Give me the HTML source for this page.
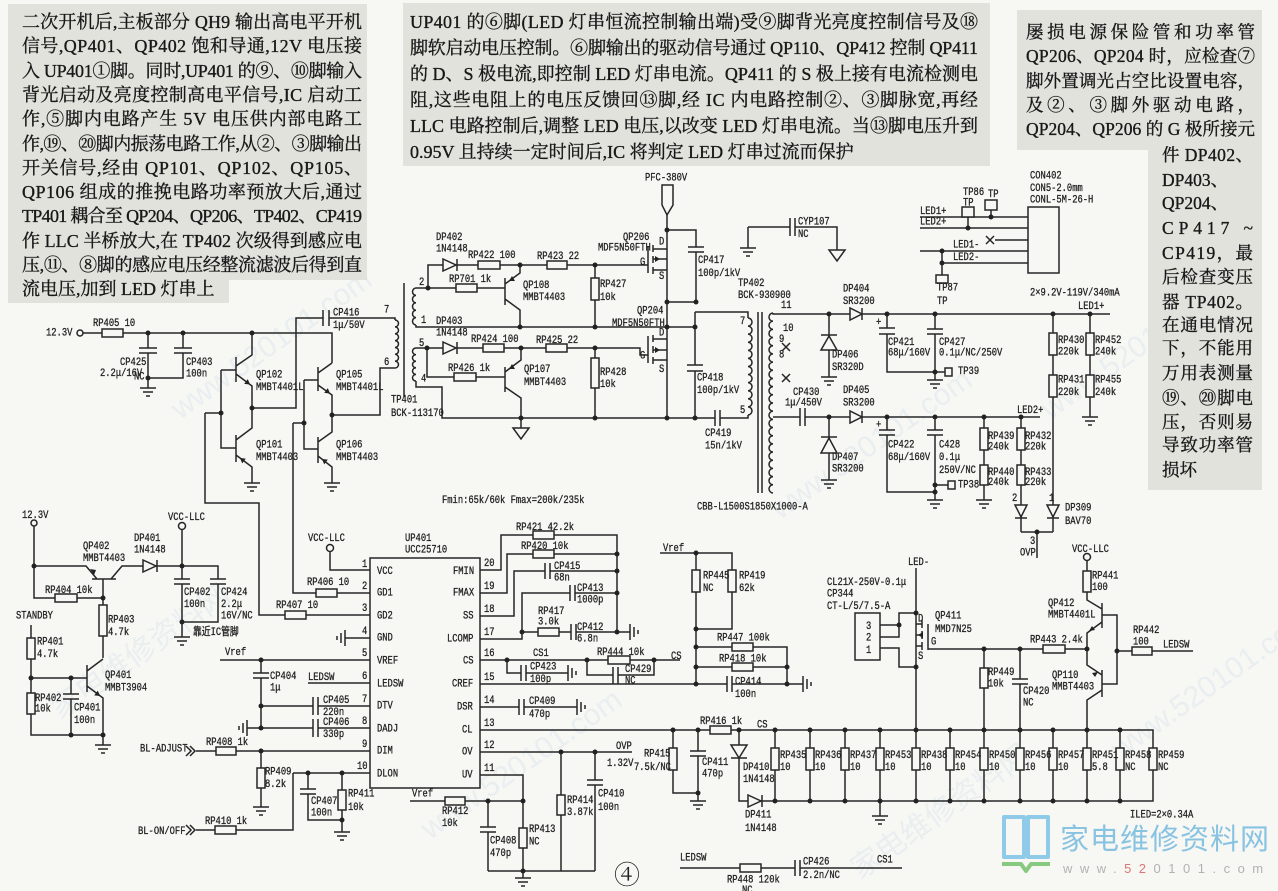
<!DOCTYPE html>
<html><head><meta charset="utf-8">
<style>
html,body{margin:0;padding:0;background:#f7f7f4;}
svg{display:block}
.w path,.w line{stroke:#262626;stroke-width:1.5;fill:none}
.w rect{stroke:#262626;stroke-width:1.5;fill:#f7f7f4}
.w polygon{stroke:#262626;stroke-width:1.5;fill:#f7f7f4}
.dots circle{fill:#222}
.c text{font-family:"Liberation Mono","Noto Sans CJK SC",monospace;font-size:11px;fill:#222;stroke:#222;stroke-width:0.3;dominant-baseline:central;transform-box:fill-box;transform-origin:0 50%;transform:scaleX(.8)}
.b text{font-family:"Liberation Serif","Noto Serif CJK SC",serif;font-size:18px;fill:#181818;stroke:#181818;stroke-width:0.35}
.wm text{font-family:"Liberation Sans","Noto Sans CJK SC",sans-serif;font-size:30px;fill:#dfe7ee;opacity:.55}
</style></head>
<body>
<svg width="1278" height="891" viewBox="0 0 1278 891" xmlns="http://www.w3.org/2000/svg">
<rect x="0" y="0" width="1278" height="891" fill="#f7f7f4"/>

<!-- watermarks -->
<g class="wm">
<text transform="translate(180,420) rotate(-35)">www.520101.com</text>
<text transform="translate(430,840) rotate(-35)">www.520101.com</text>
<text transform="translate(780,520) rotate(-35)">www.520101.com</text>
<text transform="translate(1120,760) rotate(-35)">www.520101.com</text>
<text transform="translate(1050,420) rotate(-35)">www.520101.com</text>
<text transform="translate(60,720) rotate(-35)">家电维修资料网</text>
<text transform="translate(860,880) rotate(-35)">家电维修资料网</text>
</g>

<!-- text block backgrounds -->
<rect x="8" y="4" width="359" height="276" fill="#e2e2dd"/>
<rect x="8" y="270" width="221" height="33" fill="#e2e2dd"/>
<rect x="403" y="3" width="587" height="163" fill="#e2e2dd"/>
<rect x="1017" y="10" width="245" height="140" fill="#e2e2dd"/>
<rect x="1148" y="145" width="114" height="345" fill="#e2e2dd"/>

<g class="b">
<text x="22" y="28" textLength="340" lengthAdjust="spacing">二次开机后,主板部分 QH9 输出高电平开机</text>
<text x="22" y="52" textLength="340" lengthAdjust="spacing">信号,QP401、QP402 饱和导通,12V 电压接</text>
<text x="22" y="77" textLength="340" lengthAdjust="spacing">入 UP401①脚。同时,UP401 的⑨、⑩脚输入</text>
<text x="22" y="101" textLength="340" lengthAdjust="spacing">背光启动及亮度控制高电平信号,IC 启动工</text>
<text x="22" y="125" textLength="340" lengthAdjust="spacing">作,⑤脚内电路产生 5V 电压供内部电路工</text>
<text x="22" y="150" textLength="340" lengthAdjust="spacing">作,⑲、⑳脚内振荡电路工作,从②、③脚输出</text>
<text x="22" y="174" textLength="340" lengthAdjust="spacing">开关信号,经由 QP101、QP102、QP105、</text>
<text x="22" y="198" textLength="340" lengthAdjust="spacing">QP106 组成的推挽电路功率预放大后,通过</text>
<text x="22" y="222" textLength="340" lengthAdjust="spacing">TP401 耦合至 QP204、QP206、TP402、CP419</text>
<text x="22" y="247" textLength="340" lengthAdjust="spacing">作 LLC 半桥放大,在 TP402 次级得到感应电</text>
<text x="22" y="271" textLength="340" lengthAdjust="spacing">压,⑪、⑧脚的感应电压经整流滤波后得到直</text>
<text x="22" y="295">流电压,加到 LED 灯串上</text>

<text x="410" y="28" textLength="568" lengthAdjust="spacing">UP401 的⑥脚(LED 灯串恒流控制输出端)受⑨脚背光亮度控制信号及⑱</text>
<text x="410" y="54" textLength="568" lengthAdjust="spacing">脚软启动电压控制。⑥脚输出的驱动信号通过 QP110、QP412 控制 QP411</text>
<text x="410" y="80" textLength="568" lengthAdjust="spacing">的 D、S 极电流,即控制 LED 灯串电流。QP411 的 S 极上接有电流检测电</text>
<text x="410" y="106" textLength="568" lengthAdjust="spacing">阻,这些电阻上的电压反馈回⑬脚,经 IC 内电路控制②、③脚脉宽,再经</text>
<text x="410" y="132" textLength="568" lengthAdjust="spacing">LLC 电路控制后,调整 LED 电压,以改变 LED 灯串电流。当⑬脚电压升到</text>
<text x="410" y="158">0.95V 且持续一定时间后,IC 将判定 LED 灯串过流而保护</text>
</g>
<g class="b">
<text x="1026" y="38" textLength="229" lengthAdjust="spacing" style="font-size:17.5px">屡损电源保险管和功率管</text>
<text x="1026" y="62" textLength="229" lengthAdjust="spacing" style="font-size:17.5px">QP206、QP204 时，应检查⑦</text>
<text x="1026" y="87" textLength="229" lengthAdjust="spacing" style="font-size:17.5px">脚外置调光占空比设置电容，</text>
<text x="1026" y="111" textLength="229" lengthAdjust="spacing" style="font-size:17.5px">及②、③脚外驱动电路，</text>
<text x="1026" y="135" textLength="229" lengthAdjust="spacing" style="font-size:17.5px">QP204、QP206 的 G 极所接元</text>
<text x="1162" y="161" textLength="91" lengthAdjust="spacing" style="font-size:17.5px">件 DP402、</text>
<text x="1162" y="186" style="font-size:17.5px">DP403、</text>
<text x="1162" y="209" style="font-size:17.5px">QP204、</text>
<text x="1162" y="234" textLength="91" lengthAdjust="spacing" style="font-size:17.5px">CP417 ~</text>
<text x="1162" y="259" textLength="91" lengthAdjust="spacing" style="font-size:17.5px">CP419，最</text>
<text x="1162" y="283" textLength="91" lengthAdjust="spacing" style="font-size:17.5px">后检查变压</text>
<text x="1162" y="308" textLength="91" lengthAdjust="spacing" style="font-size:17.5px">器 TP402。</text>
<text x="1162" y="331" textLength="91" lengthAdjust="spacing" style="font-size:17.5px">在通电情况</text>
<text x="1162" y="354" textLength="91" lengthAdjust="spacing" style="font-size:17.5px">下，不能用</text>
<text x="1162" y="379" textLength="91" lengthAdjust="spacing" style="font-size:17.5px">万用表测量</text>
<text x="1162" y="404" textLength="91" lengthAdjust="spacing" style="font-size:17.5px">⑲、⑳脚电</text>
<text x="1162" y="428" textLength="91" lengthAdjust="spacing" style="font-size:17.5px">压，否则易</text>
<text x="1162" y="451" textLength="91" lengthAdjust="spacing" style="font-size:17.5px">导致功率管</text>
<text x="1162" y="476" style="font-size:17.5px">损坏</text>
</g>

<!-- ===== WIRES ===== -->
<g class="w">
<path d="M83,333H332V363"/>
<path d="M148,333V348M139,348H157M139,353H157M148,353V388"/>
<path d="M183,333V348M174,348H192M174,353H192M183,353V378H148"/>
<path d="M236,357V382M252,333V355L236,366M236,374L252,386V408"/>
<path d="M236,435V462M252,408V428L236,440M236,455L252,467V483"/>
<path d="M221,370H236M221,370V448H236M205,413H221M205,413V503H259V615H370"/>
<path d="M318,367V391M332,363L318,373M318,385L332,395V415"/>
<path d="M318,437V463M332,415V432L318,442M318,456L332,467V483"/>
<path d="M304,380H318M304,380V449H318M293,423H304M293,423V593H370"/>
<path d="M332,415H380V368H395"/>
<path d="M252,408H296V318H323M329,318H395V320M323,310V326M329,310V326"/>
<path d="M395,320a3.5,3.43 0 0 1 0,6.86a3.5,3.43 0 0 1 0,6.86a3.5,3.43 0 0 1 0,6.86a3.5,3.43 0 0 1 0,6.86a3.5,3.43 0 0 1 0,6.86a3.5,3.43 0 0 1 0,6.86a3.5,3.43 0 0 1 0,6.86"/>
<path d="M404,283V397"/>
<path d="M416,288a3.5,3.7 0 0 0 0,7.4a3.5,3.7 0 0 0 0,7.4a3.5,3.7 0 0 0 0,7.4a3.5,3.7 0 0 0 0,7.4a3.5,3.7 0 0 0 0,7.4"/>
<path d="M416,348a3.5,3.3 0 0 0 0,6.6a3.5,3.3 0 0 0 0,6.6a3.5,3.3 0 0 0 0,6.6a3.5,3.3 0 0 0 0,6.6a3.5,3.3 0 0 0 0,6.6"/>
<path d="M416,288H428V265H648M428,288H505M416,325V327H695"/>
<path d="M505,278V305M505,284L520,273V265M505,299L520,310V327"/>
<path d="M595,265V327"/>
<path d="M667,215V418M667,230H696V247M696,252V302H667M688,247H704M688,252H704"/>
<polygon points="662,185 673,185 673,205 667,215 662,205"/>
<path d="M648,246V273M653,245V252M653,256V263M653,267V274M653,249H667M653,270H667M653,259H667"/>
<path d="M648,336V363M653,335V342M653,346V353M653,357V364M653,339H667M653,360H667M653,350H667"/>
<path d="M416,348H640V355H648M427,348V377H505"/>
<path d="M505,367V392M505,372L521,360V348M505,387L521,398V428"/>
<polygon points="513,428 529,428 521,439"/>
<path d="M595,348V418"/>
<path d="M416,381V387H442V418H715M720,418H748V415M715,410V426M720,410V426"/>
<path d="M695,312V365M695,371V418M687,365H703M687,371H703M695,312H748V318"/>
<path d="M748,318a4,4.04 0 0 1 0,8.08a4,4.04 0 0 1 0,8.08a4,4.04 0 0 1 0,8.08a4,4.04 0 0 1 0,8.08a4,4.04 0 0 1 0,8.08a4,4.04 0 0 1 0,8.08a4,4.04 0 0 1 0,8.08a4,4.04 0 0 1 0,8.08a4,4.04 0 0 1 0,8.08a4,4.04 0 0 1 0,8.08a4,4.04 0 0 1 0,8.08a4,4.04 0 0 1 0,8.08"/>
<path d="M758,312V493M762,312V493"/>
<path d="M773,313a4,4.09 0 0 0 0,8.18a4,4.09 0 0 0 0,8.18a4,4.09 0 0 0 0,8.18a4,4.09 0 0 0 0,8.18a4,4.09 0 0 0 0,8.18a4,4.09 0 0 0 0,8.18a4,4.09 0 0 0 0,8.18a4,4.09 0 0 0 0,8.18a4,4.09 0 0 0 0,8.18a4,4.09 0 0 0 0,8.18a4,4.09 0 0 0 0,8.18a4,4.09 0 0 0 0,8.18a4,4.09 0 0 0 0,8.18a4,4.09 0 0 0 0,8.18a4,4.09 0 0 0 0,8.18a4,4.09 0 0 0 0,8.18a4,4.09 0 0 0 0,8.18a4,4.09 0 0 0 0,8.18a4,4.09 0 0 0 0,8.18a4,4.09 0 0 0 0,8.18a4,4.09 0 0 0 0,8.18a4,4.09 0 0 0 0,8.18"/>
<path d="M782,343l8,8M782,351l8,-8M782,374l8,8M782,382l8,-8"/>
<path d="M748,227V248M748,227H790M795,227H837V250M790,218V236M795,218V236"/>
<polygon points="829,250 845,250 837,261"/>
<path d="M773,313V314H1110"/>
<path d="M829,314V377"/>
<path d="M887,314V328M887,334V372H935M879,328H895M879,334H895"/>
<path d="M935,314V329M935,334V380M927,329H943M927,334H943M935,372H945"/>
<path d="M773,417H800M805,417H1040M800,408V426M805,408V426"/>
<path d="M829,417V480"/>
<path d="M887,417V430M887,435V492H935M879,430H895M879,435H895"/>
<path d="M935,417V430M935,435V500M927,430H943M927,435H943M935,485H948"/>
<path d="M984,417V500M1021,417V532M1053,314V532M1021,532H1053M1037,532V558M1090,314V417"/>
<path d="M920,217H1028M920,228H1028M995,240H1028M920,251H1028M942,263H1028M991,210V217M968,217V228M942,251V275M986,236L994,244M986,244L994,236"/>
<path d="M140,388h16M143,392h10M146,396h4M244,483h16M247,487h10M250,491h4M324,483h16M327,487h10M330,491h4M174,637h16M177,641h10M180,645h4M95,745h16M98,749h10M101,753h4M253,807h16M256,811h10M259,815h4M334,832h16M337,836h10M340,840h4M515,878h16M518,882h10M521,886h4M690,801h16M693,805h10M696,809h4M821,377h16M824,381h10M827,385h4M927,380h16M930,384h10M933,388h4M821,480h16M824,484h10M827,488h4M927,500h16M930,504h10M933,508h4M976,500h16M979,504h10M982,508h4M1082,417h16M1085,421h10M1088,425h4M740,248h16M743,252h10M746,256h4M872,816h16M875,820h10M878,824h4"/>
<path d="M345,630v16M341,633v10M337,636v4M247,720v16M243,723v10M239,726v4M630,624v16M634,627v10M638,630v4M568,665v16M572,668v10M576,671v4M803,676v16M807,679v10M811,682v4M577,699v16M581,702v10M585,705v4"/>
<path d="M34,526V598H103"/>
<path d="M34,566H86L97,579M111,579L122,566H218V579M92,579H116M103,579V658"/>
<path d="M182,530V579M182,584V637M174,579H190M174,584H190M218,584V622H182M210,579H226M210,584H226"/>
<path d="M87,665V692M87,671L103,659M87,686L103,698V745"/>
<path d="M31,625V735H103M31,678H87M71,678V694M71,699V735M63,694H79M63,699H79"/>
<path d="M330,552V570H370M345,638H370"/>
<path d="M220,660H370M261,660V673M261,678V728M253,673H269M253,678H269"/>
<path d="M308,683H370"/>
<path d="M261,706H313M318,706H370M313,697V715M318,697V715"/>
<path d="M247,728H313M318,728H370M313,719V737M318,719V737"/>
<path d="M196,751H370M261,751V807M186,746l5,5l-5,5M190,746l5,5l-5,5"/>
<path d="M293,773H370M293,773V830H196M186,825l5,5l-5,5M190,825l5,5l-5,5"/>
<path d="M308,773V789M308,794V820H342M300,789H316M300,794H316M342,773V832"/>
<path d="M480,570H501V535H617V632"/>
<path d="M480,593H507V554H617"/>
<path d="M480,616H514V571H545M550,571H617M545,563V579M550,563V579"/>
<path d="M480,639H522V593H570M575,593H617M570,585V601M575,585V601"/>
<path d="M522,632H571M576,632H630M571,624V640M576,624V640"/>
<path d="M480,660H680"/>
<path d="M507,660V673H521M526,673H568M521,665V681M526,665V681"/>
<path d="M587,660V675H613M618,675H654V660M613,667V684M618,667V684"/>
<path d="M480,684H727M732,684H803M727,676V692M732,676V692"/>
<path d="M660,553H732V629H696M696,553V684M696,647H787V684M696,667H787"/>
<path d="M480,707H519M524,707H577M519,699V715M524,699V715"/>
<path d="M480,730H1153V801H739V730"/>
<path d="M673,730V793H698M698,730V751M698,756V801M690,751H706M690,756H706"/>
<path d="M775,730V801M810,730V801M845,730V801M880,730V816M916,730V801M950,730V801M984,730V801M1020,730V801M1053,730V801M1087,730V801M1120,730V801"/>
<path d="M480,752H632M561,752V871M595,752V780M595,785V871M587,780H603M587,785H603"/>
<path d="M480,775H523V878M488,871H595M410,801H523M488,801V827M488,832V871M480,827H496M480,832H496"/>
<path d="M680,868H795M800,868H902M795,860V876M800,860V876"/>
<path d="M916,568V730M922,620V628M922,631V639M922,642V650M916,624H922M916,646H922M916,635H922M928,624V650M928,649H1087"/>
<path d="M880,625H899M880,637H899V613H916M880,648H899V667H916"/>
<path d="M984,649V730M1020,649V679M1020,684V730M1012,679H1028M1012,684H1028"/>
<path d="M1087,561V600L1102,609M1102,603V628M1102,622L1087,633V665L1102,675M1102,670V697M1102,690L1087,700V730"/>
<path d="M1102,615H1117V684H1102M1117,651H1193"/>

<rect x="102" y="329" width="21" height="8"/>
<rect x="456" y="284" width="21" height="8"/>
<rect x="478" y="261" width="22" height="8"/>
<rect x="547" y="261" width="20" height="8"/>
<rect x="591" y="278" width="8" height="22"/>
<rect x="483" y="344" width="21" height="8"/>
<rect x="546" y="344" width="21" height="8"/>
<rect x="454" y="373" width="22" height="8"/>
<rect x="591" y="358" width="8" height="30"/>
<rect x="980" y="428" width="8" height="22"/>
<rect x="980" y="465" width="8" height="20"/>
<rect x="1017" y="428" width="8" height="22"/>
<rect x="1017" y="465" width="8" height="20"/>
<rect x="1049" y="333" width="8" height="22"/>
<rect x="1049" y="375" width="8" height="22"/>
<rect x="1086" y="333" width="8" height="22"/>
<rect x="1086" y="375" width="8" height="22"/>
<rect x="1028" y="207" width="31" height="66"/>
<rect x="985" y="200" width="12" height="10"/>
<rect x="962" y="207" width="12" height="10"/>
<rect x="936" y="275" width="12" height="8"/>
<rect x="945" y="368" width="7" height="8"/>
<rect x="948" y="481" width="7" height="8"/>
<rect x="55" y="594" width="22" height="8"/>
<rect x="99" y="605" width="8" height="31"/>
<rect x="27" y="638" width="8" height="21"/>
<rect x="27" y="693" width="8" height="21"/>
<rect x="370" y="558" width="110" height="230"/>
<rect x="316" y="589" width="21" height="8"/>
<rect x="285" y="611" width="21" height="8"/>
<rect x="216" y="747" width="20" height="8"/>
<rect x="257" y="768" width="8" height="20"/>
<rect x="215" y="826" width="21" height="8"/>
<rect x="338" y="790" width="8" height="20"/>
<rect x="533" y="531" width="21" height="8"/>
<rect x="533" y="550" width="21" height="8"/>
<rect x="538" y="628" width="21" height="8"/>
<rect x="608" y="656" width="22" height="8"/>
<rect x="692" y="570" width="8" height="22"/>
<rect x="728" y="570" width="8" height="22"/>
<rect x="732" y="643" width="21" height="8"/>
<rect x="732" y="663" width="21" height="8"/>
<rect x="710" y="726" width="21" height="8"/>
<rect x="669" y="748" width="8" height="22"/>
<rect x="557" y="795" width="8" height="20"/>
<rect x="519" y="828" width="8" height="20"/>
<rect x="445" y="797" width="20" height="8"/>
<rect x="740" y="864" width="21" height="8"/>
<rect x="771" y="748" width="8" height="22"/>
<rect x="806" y="748" width="8" height="22"/>
<rect x="841" y="748" width="8" height="22"/>
<rect x="876" y="748" width="8" height="22"/>
<rect x="912" y="748" width="8" height="22"/>
<rect x="946" y="748" width="8" height="22"/>
<rect x="980" y="748" width="8" height="22"/>
<rect x="1016" y="748" width="8" height="22"/>
<rect x="1049" y="748" width="8" height="22"/>
<rect x="1083" y="748" width="8" height="22"/>
<rect x="1116" y="748" width="8" height="22"/>
<rect x="1149" y="748" width="8" height="22"/>
<rect x="855" y="613" width="25" height="47"/>
<rect x="980" y="668" width="8" height="20"/>
<rect x="1043" y="645" width="22" height="8"/>
<rect x="1083" y="571" width="8" height="21"/>
<rect x="1132" y="647" width="20" height="8"/>

<polygon points="443,259 443,271 456,265"/><path d="M457,259V271"/>
<polygon points="443,342 443,354 456,348"/><path d="M457,342V354"/>
<polygon points="850,308 850,320 862,314"/><path d="M862,308V320"/>
<polygon points="850,411 850,423 862,417"/><path d="M862,411V423"/>
<polygon points="821,350 837,350 829,336"/><path d="M821,335H837"/>
<polygon points="821,453 837,453 829,438"/><path d="M821,437H837"/>
<polygon points="1015,505 1027,505 1021,517"/><path d="M1015,518H1027"/>
<polygon points="1047,505 1059,505 1053,517"/><path d="M1047,518H1059"/>
<polygon points="143,560 143,572 156,566"/><path d="M157,560V572"/>
<polygon points="731,745 747,745 739,758"/><path d="M731,758H747"/>
<polygon points="748,795 748,807 761,801"/><path d="M762,795V807"/>
</g>

<g fill="#f7f7f4" stroke="#262626" stroke-width="1.5">
<circle cx="80" cy="333" r="3"/>
<circle cx="34" cy="523" r="3"/>
<circle cx="182" cy="526" r="3.5"/>
<circle cx="330" cy="548" r="3.5"/>
<circle cx="1087" cy="557" r="3.5"/>
</g>

<g fill="#222">
<polygon points="250,384.5 244.2,383.9 247.8,379.1"/>
<polygon points="240,458 245.8,458.6 242.2,463.4"/>
<polygon points="330,393.5 324.2,392.9 327.8,388.1"/>
<polygon points="322,459 327.8,459.6 324.2,464.4"/>
<polygon points="509,281 515,281 512,276"/>
<polygon points="509,369 515,369 512,364"/>
<polygon points="100,696 94.2,695.4 97.8,690.6"/>
<polygon points="90,569 94,575 96,570"/>
<polygon points="1089,631 1095,630 1092,626"/>
<polygon points="1098,672 1092,673 1095,677"/>
<polygon points="660,259 655,256 655,262"/>
<polygon points="660,350 655,347 655,353"/>
<polygon points="918,635 923,632 923,638"/>
</g>

<g class="dots">
<circle cx="148" cy="333" r="2.5"/><circle cx="183" cy="333" r="2.5"/><circle cx="252" cy="333" r="2.5"/><circle cx="148" cy="378" r="2.5"/>
<circle cx="252" cy="408" r="2.5"/><circle cx="221" cy="413" r="2.5"/><circle cx="304" cy="423" r="2.5"/><circle cx="332" cy="415" r="2.5"/>
<circle cx="428" cy="288" r="2.5"/><circle cx="520" cy="265" r="2.5"/><circle cx="595" cy="265" r="2.5"/><circle cx="520" cy="327" r="2.5"/>
<circle cx="595" cy="327" r="2.5"/><circle cx="667" cy="327" r="2.5"/><circle cx="695" cy="327" r="2.5"/><circle cx="667" cy="230" r="2.5"/>
<circle cx="696" cy="302" r="2.5"/><circle cx="667" cy="302" r="2.5"/><circle cx="427" cy="348" r="2.5"/><circle cx="521" cy="348" r="2.5"/>
<circle cx="595" cy="348" r="2.5"/><circle cx="521" cy="418" r="2.5"/><circle cx="595" cy="418" r="2.5"/><circle cx="667" cy="418" r="2.5"/><circle cx="695" cy="418" r="2.5"/>
<circle cx="829" cy="314" r="2.5"/><circle cx="887" cy="314" r="2.5"/><circle cx="935" cy="314" r="2.5"/><circle cx="1053" cy="314" r="2.5"/><circle cx="1090" cy="314" r="2.5"/>
<circle cx="935" cy="372" r="2.5"/><circle cx="829" cy="417" r="2.5"/><circle cx="887" cy="417" r="2.5"/><circle cx="935" cy="417" r="2.5"/><circle cx="984" cy="417" r="2.5"/>
<circle cx="1021" cy="417" r="2.5"/><circle cx="935" cy="485" r="2.5"/><circle cx="935" cy="492" r="2.5"/><circle cx="1037" cy="532" r="2.5"/>
<circle cx="991" cy="217" r="2.5"/><circle cx="968" cy="228" r="2.5"/><circle cx="942" cy="251" r="2.5"/><circle cx="942" cy="263" r="2.5"/>
<circle cx="34" cy="566" r="2.5"/><circle cx="103" cy="598" r="2.5"/><circle cx="182" cy="566" r="2.5"/><circle cx="182" cy="622" r="2.5"/>
<circle cx="31" cy="678" r="2.5"/><circle cx="71" cy="678" r="2.5"/><circle cx="71" cy="735" r="2.5"/><circle cx="103" cy="735" r="2.5"/>
<circle cx="261" cy="660" r="2.5"/><circle cx="261" cy="706" r="2.5"/><circle cx="261" cy="728" r="2.5"/><circle cx="261" cy="751" r="2.5"/>
<circle cx="308" cy="773" r="2.5"/><circle cx="342" cy="773" r="2.5"/><circle cx="342" cy="820" r="2.5"/>
<circle cx="617" cy="554" r="2.5"/><circle cx="617" cy="571" r="2.5"/><circle cx="617" cy="593" r="2.5"/><circle cx="617" cy="632" r="2.5"/><circle cx="522" cy="632" r="2.5"/>
<circle cx="507" cy="660" r="2.5"/><circle cx="587" cy="660" r="2.5"/><circle cx="654" cy="660" r="2.5"/>
<circle cx="696" cy="553" r="2.5"/><circle cx="696" cy="629" r="2.5"/><circle cx="696" cy="647" r="2.5"/><circle cx="696" cy="667" r="2.5"/><circle cx="696" cy="684" r="2.5"/>
<circle cx="787" cy="667" r="2.5"/><circle cx="787" cy="684" r="2.5"/><circle cx="561" cy="752" r="2.5"/><circle cx="595" cy="752" r="2.5"/>
<circle cx="523" cy="801" r="2.5"/><circle cx="488" cy="801" r="2.5"/><circle cx="523" cy="871" r="2.5"/>
<circle cx="673" cy="730" r="2.5"/><circle cx="698" cy="730" r="2.5"/><circle cx="739" cy="730" r="2.5"/><circle cx="698" cy="793" r="2.5"/>
<circle cx="775" cy="730" r="2.5"/><circle cx="810" cy="730" r="2.5"/><circle cx="845" cy="730" r="2.5"/><circle cx="880" cy="730" r="2.5"/><circle cx="916" cy="730" r="2.5"/><circle cx="950" cy="730" r="2.5"/><circle cx="984" cy="730" r="2.5"/><circle cx="1020" cy="730" r="2.5"/><circle cx="1053" cy="730" r="2.5"/><circle cx="1087" cy="730" r="2.5"/><circle cx="1120" cy="730" r="2.5"/>
<circle cx="775" cy="801" r="2.5"/><circle cx="810" cy="801" r="2.5"/><circle cx="845" cy="801" r="2.5"/><circle cx="880" cy="801" r="2.5"/><circle cx="916" cy="801" r="2.5"/><circle cx="950" cy="801" r="2.5"/><circle cx="984" cy="801" r="2.5"/><circle cx="1020" cy="801" r="2.5"/><circle cx="1053" cy="801" r="2.5"/><circle cx="1087" cy="801" r="2.5"/><circle cx="1120" cy="801" r="2.5"/>
<circle cx="916" cy="613" r="2.5"/><circle cx="916" cy="667" r="2.5"/><circle cx="899" cy="625" r="2.5"/><circle cx="984" cy="649" r="2.5"/><circle cx="1020" cy="649" r="2.5"/><circle cx="1087" cy="649" r="2.5"/><circle cx="1117" cy="651" r="2.5"/>
</g>

<g class="c">
<text x="46" y="333">12.3V</text>
<text x="93" y="323">RP405 10</text>
<text x="120" y="362">CP425</text><text x="100" y="373">2.2μ/16V</text><text x="134" y="377">NC</text>
<text x="186" y="362">CP403</text><text x="186" y="374">100n</text>
<text x="256" y="375">QP102</text><text x="256" y="387">MMBT4401L</text>
<text x="256" y="445">QP101</text><text x="256" y="457">MMBT4403</text>
<text x="336" y="375">QP105</text><text x="336" y="387">MMBT4401L</text>
<text x="336" y="445">QP106</text><text x="336" y="457">MMBT4403</text>
<text x="333" y="313">CP416</text><text x="333" y="325">1μ/50V</text>
<text x="384" y="310">7</text><text x="384" y="362">6</text>
<text x="391" y="400">TP401</text><text x="391" y="413">BCK-113170</text>
<text x="419" y="282">2</text><text x="421" y="320">1</text><text x="419" y="343">5</text><text x="421" y="379">4</text>
<text x="436" y="237">DP402</text><text x="436" y="249">1N4148</text>
<text x="468" y="255">RP422 100</text><text x="449" y="279">RP701 1k</text><text x="537" y="256">RP423 22</text>
<text x="523" y="285">QP108</text><text x="523" y="297">MMBT4403</text>
<text x="600" y="284">RP427</text><text x="600" y="297">10k</text>
<text x="436" y="321">DP403</text><text x="436" y="333">1N4148</text>
<text x="471" y="339">RP424 100</text><text x="536" y="340">RP425 22</text><text x="448" y="368">RP426 1k</text>
<text x="524" y="369">QP107</text><text x="524" y="382">MMBT4403</text>
<text x="600" y="372">RP428</text><text x="600" y="384">10k</text>
<text x="645" y="178">PFC-380V</text>
<text x="623" y="237">QP206</text><text x="598" y="248">MDF5N50FTH</text>
<text x="659" y="242">D</text><text x="640" y="262">G</text><text x="659" y="276">S</text>
<text x="637" y="311">QP204</text><text x="612" y="323">MDF5N50FTH</text>
<text x="659" y="333">D</text><text x="640" y="356">G</text><text x="659" y="369">S</text>
<text x="698" y="260">CP417</text><text x="698" y="273">100p/1kV</text>
<text x="697" y="378">CP418</text><text x="697" y="390">100p/1kV</text>
<text x="705" y="433">CP419</text><text x="705" y="446">15n/1kV</text>
<text x="740" y="321">7</text><text x="740" y="410">5</text>
<text x="738" y="283">TP402</text><text x="738" y="295">BCK-930900</text>
<text x="781" y="305">11</text><text x="783" y="328">10</text><text x="779" y="339">9</text><text x="779" y="355">8</text>
<text x="798" y="222">CYP107</text><text x="798" y="234">NC</text>
<text x="697" y="507">CBB-L1500S1850X1000-A</text>
<text x="442" y="500">Fmin:65k/60k  Fmax=200k/235k</text>
<text x="843" y="289">DP404</text><text x="843" y="301">SR3200</text>
<text x="832" y="355">DP406</text><text x="832" y="367">SR320D</text>
<text x="876" y="322">+</text><text x="876" y="425">+</text>
<text x="888" y="342">CP421</text><text x="888" y="353">68μ/160V</text>
<text x="939" y="342">CP427</text><text x="939" y="353">0.1μ/NC/250V</text>
<text x="958" y="371">TP39</text>
<text x="793" y="392">CP430</text><text x="785" y="403">1μ/450V</text>
<text x="843" y="390">DP405</text><text x="843" y="403">SR3200</text>
<text x="832" y="457">DP407</text><text x="832" y="469">SR3200</text>
<text x="888" y="445">CP422</text><text x="888" y="457">68μ/160V</text>
<text x="939" y="445">C428</text><text x="939" y="457">0.1μ</text><text x="939" y="470">250V/NC</text>
<text x="958" y="485">TP38</text>
<text x="988" y="436">RP439</text><text x="988" y="447">240k</text><text x="988" y="472">RP440</text><text x="988" y="482">240k</text>
<text x="1025" y="436">RP432</text><text x="1025" y="447">220k</text><text x="1025" y="472">RP433</text><text x="1025" y="482">220k</text>
<text x="1017" y="410">LED2+</text>
<text x="1012" y="498">2</text><text x="1049" y="498">1</text>
<text x="1058" y="340">RP430</text><text x="1058" y="352">220k</text><text x="1058" y="380">RP431</text><text x="1058" y="392">220k</text>
<text x="1095" y="340">RP452</text><text x="1095" y="352">240k</text><text x="1095" y="380">RP455</text><text x="1095" y="392">240k</text>
<text x="1030" y="293">2×9.2V-119V/340mA</text>
<text x="1078" y="306">LED1+</text>
<text x="1030" y="176">CON402</text><text x="1030" y="188">CON5-2.0mm</text><text x="1030" y="200">CONL-5M-26-H</text>
<text x="920" y="211">LED1+</text><text x="920" y="222">LED2+</text>
<text x="963" y="192">TP86</text><text x="963" y="203">TP</text><text x="988" y="194">TP</text>
<text x="953" y="245">LED1-</text><text x="953" y="257">LED2-</text>
<text x="937" y="288">TP87</text><text x="937" y="301">TP</text>
<text x="1065" y="508">DP309</text><text x="1065" y="521">BAV70</text>
<text x="1030" y="541">3</text><text x="1020" y="553">OVP</text>

<text x="22" y="515">12.3V</text><text x="168" y="517">VCC-LLC</text>
<text x="83" y="546">QP402</text><text x="83" y="558">MMBT4403</text>
<text x="134" y="538">DP401</text><text x="134" y="550">1N4148</text>
<text x="45" y="590">RP404 10k</text>
<text x="108" y="620">RP403</text><text x="108" y="632">4.7k</text>
<text x="184" y="592">CP402</text><text x="184" y="604">100n</text>
<text x="221" y="592">CP424</text><text x="221" y="604">2.2μ</text><text x="221" y="616">16V/NC</text>
<text x="193" y="632">靠近IC管脚</text>
<text x="16" y="616">STANDBY</text>
<text x="37" y="642">RP401</text><text x="37" y="654">4.7k</text>
<text x="35" y="698">RP402</text><text x="35" y="709">10k</text>
<text x="74" y="708">CP401</text><text x="74" y="720">100n</text>
<text x="105" y="675">QP401</text><text x="105" y="688">MMBT3904</text>
<text x="308" y="538">VCC-LLC</text>
<text x="405" y="538">UP401</text><text x="405" y="550">UCC25710</text>
<text x="307" y="582">RP406 10</text><text x="276" y="605">RP407 10</text>
<text x="225" y="652">Vref</text>
<text x="270" y="676">CP404</text><text x="270" y="688">1μ</text>
<text x="308" y="677">LEDSW</text>
<text x="323" y="700">CP405</text><text x="323" y="712">220n</text>
<text x="323" y="722">CP406</text><text x="323" y="734">330p</text>
<text x="140" y="749">BL-ADJUST</text><text x="206" y="742">RP408 1k</text>
<text x="265" y="772">RP409</text><text x="265" y="784">8.2k</text>
<text x="138" y="831">BL-ON/OFF</text><text x="205" y="821">RP410 1k</text>
<text x="311" y="801">CP407</text><text x="311" y="813">100n</text>
<text x="348" y="794">RP411</text><text x="348" y="807">10k</text>
<text x="362" y="564">1</text><text x="362" y="586">2</text><text x="362" y="608">3</text><text x="362" y="631">4</text><text x="362" y="653">5</text>
<text x="362" y="676">6</text><text x="362" y="699">7</text><text x="362" y="721">8</text><text x="362" y="744">9</text><text x="357" y="766">10</text>
<text x="377" y="571">VCC</text><text x="377" y="593">GD1</text><text x="377" y="616">GD2</text><text x="377" y="638">GND</text><text x="377" y="661">VREF</text>
<text x="377" y="684">LEDSW</text><text x="377" y="706">DTV</text><text x="377" y="729">DADJ</text><text x="377" y="751">DIM</text><text x="377" y="774">DLON</text>
<text x="453" y="571">FMIN</text><text x="453" y="593">FMAX</text><text x="463" y="616">SS</text><text x="447" y="639">LCOMP</text><text x="463" y="661">CS</text>
<text x="452" y="684">CREF</text><text x="457" y="707">DSR</text><text x="462" y="730">CL</text><text x="462" y="752">OV</text><text x="462" y="775">UV</text>
<text x="484" y="563">20</text><text x="484" y="586">19</text><text x="484" y="609">18</text><text x="484" y="632">17</text><text x="484" y="653">16</text>
<text x="484" y="677">15</text><text x="484" y="700">14</text><text x="484" y="723">13</text><text x="484" y="745">12</text><text x="484" y="768">11</text>
<text x="516" y="527">RP421 42.2k</text><text x="521" y="546">RP420 10k</text>
<text x="554" y="566">CP415</text><text x="554" y="578">68n</text>
<text x="577" y="588">CP413</text><text x="577" y="600">1000p</text>
<text x="538" y="611">RP417</text><text x="538" y="622">3.0k</text>
<text x="577" y="627">CP412</text><text x="577" y="639">6.8n</text>
<text x="533" y="653">CS1</text><text x="597" y="652">RP444 10k</text><text x="671" y="656">CS</text>
<text x="530" y="667">CP423</text><text x="530" y="679">100p</text>
<text x="625" y="669">CP429</text><text x="625" y="681">NC</text>
<text x="735" y="682">CP414</text><text x="735" y="694">100n</text>
<text x="663" y="548">Vref</text>
<text x="703" y="576">RP445</text><text x="703" y="588">NC</text><text x="739" y="576">RP419</text><text x="739" y="588">62k</text>
<text x="717" y="638">RP447 100k</text><text x="719" y="659">RP418 10k</text>
<text x="529" y="701">CP409</text><text x="529" y="714">470p</text>
<text x="700" y="721">RP416 1k</text><text x="757" y="725">CS</text>
<text x="644" y="754">RP415</text><text x="634" y="767">7.5k/NC</text>
<text x="702" y="762">CP411</text><text x="702" y="774">470p</text>
<text x="743" y="767">DP410</text><text x="743" y="779">1N4148</text>
<text x="745" y="815">DP411</text><text x="745" y="828">1N4148</text>
<text x="616" y="746">OVP</text><text x="607" y="763">1.32V</text>
<text x="567" y="800">RP414</text><text x="567" y="812">3.87k</text>
<text x="598" y="794">CP410</text><text x="598" y="807">100n</text>
<text x="529" y="829">RP413</text><text x="529" y="842">NC</text>
<text x="412" y="794">Vref</text><text x="442" y="811">RP412</text><text x="442" y="823">10k</text>
<text x="490" y="841">CP408</text><text x="490" y="853">470p</text>
<text x="780" y="755">RP435</text><text x="780" y="767">10</text>
<text x="815" y="755">RP436</text><text x="815" y="767">10</text>
<text x="850" y="755">RP437</text><text x="850" y="767">10</text>
<text x="885" y="755">RP453</text><text x="885" y="767">10</text>
<text x="921" y="755">RP438</text><text x="921" y="767">10</text>
<text x="955" y="755">RP454</text><text x="955" y="767">10</text>
<text x="989" y="755">RP450</text><text x="989" y="767">10</text>
<text x="1025" y="755">RP456</text><text x="1025" y="767">10</text>
<text x="1058" y="755">RP457</text><text x="1058" y="767">10</text>
<text x="1092" y="755">RP451</text><text x="1092" y="767">5.8</text>
<text x="1125" y="755">RP458</text><text x="1125" y="767">NC</text>
<text x="1158" y="755">RP459</text><text x="1158" y="767">NC</text>
<text x="908" y="562">LED-</text>
<text x="827" y="582">CL21X-250V-0.1μ</text><text x="827" y="594">CP344</text><text x="827" y="606">CT-L/5/7.5-A</text>
<text x="866" y="626">3</text><text x="866" y="638">2</text><text x="866" y="650">1</text>
<text x="935" y="616">QP411</text><text x="935" y="629">MMD7N25</text>
<text x="918" y="619">D</text><text x="931" y="642">G</text><text x="918" y="656">S</text>
<text x="1072" y="549">VCC-LLC</text>
<text x="1092" y="576">RP441</text><text x="1092" y="587">100</text>
<text x="1048" y="603">QP412</text><text x="1048" y="615">MMBT4401L</text>
<text x="1052" y="675">QP110</text><text x="1052" y="687">MMBT4403</text>
<text x="1030" y="640">RP443 2.4k</text>
<text x="1133" y="630">RP442</text><text x="1133" y="642">100</text>
<text x="1163" y="645">LEDSW</text>
<text x="988" y="672">RP449</text><text x="988" y="684">10k</text>
<text x="1023" y="691">CP420</text><text x="1023" y="703">NC</text>
<text x="1130" y="815">ILED=2×0.34A</text>
<text x="680" y="858">LEDSW</text><text x="727" y="880">RP448 120k</text><text x="742" y="890">NC</text>
<text x="803" y="862">CP426</text><text x="803" y="875">2.2n/NC</text>
<text x="877" y="860">CS1</text>
</g>

<text x="614" y="884" font-family="Liberation Serif, Noto Serif CJK SC, serif" font-size="26" fill="#222">④</text>

<g fill="none" stroke-linejoin="round">
<rect x="1004" y="817" width="20" height="40" stroke="#8fcbe8" stroke-width="4"/>
<rect x="1028" y="817" width="20" height="40" stroke="#8fcbe8" stroke-width="4"/>
<path d="M1002,864H1021l5,7l5,-7H1050" stroke="#86c97f" stroke-width="4"/>
</g>
<text x="1060" y="849" font-family="Noto Sans CJK SC, sans-serif" font-size="29" letter-spacing="1" fill="#89c3e2">家电维修资料网</text>
<text x="1063" y="873" font-family="Liberation Sans, sans-serif" font-size="13" letter-spacing="7.5" fill="#b2b2b2">www.<tspan fill="#d97777">52</tspan>0101.com</text>
</svg>
</body></html>
